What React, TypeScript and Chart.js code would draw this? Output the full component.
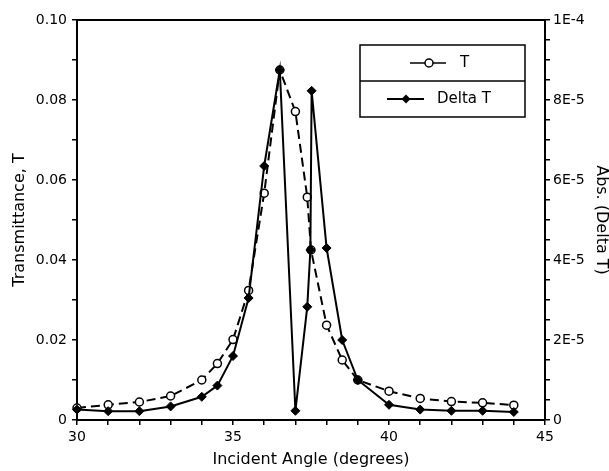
import React, { useEffect, useRef } from 'react';
import { Chart, registerables } from 'chart.js';

Chart.register(...registerables);

// ---- data ----
const tAngles = [30, 31, 32, 33, 34, 34.5, 35, 35.5, 36, 36.5, 37, 37.38, 37.5, 38, 38.5, 39, 40, 41, 42, 43, 44];
const tValues = [0.0030, 0.0038, 0.0045, 0.0060, 0.0100, 0.0141, 0.0201, 0.0324, 0.0567, 0.0875, 0.0771, 0.0557, 0.0425, 0.0237, 0.0150, 0.0100, 0.0072, 0.0054, 0.0046, 0.0043, 0.0037];

const dAngles = [30, 31, 32, 33, 34, 34.5, 35, 35.5, 36, 36.5, 37, 37.38, 37.48, 37.52, 38, 38.5, 39, 40, 41, 42, 43, 44];
const dValues = [2.6e-6, 2.2e-6, 2.2e-6, 3.4e-6, 5.8e-6, 8.6e-6, 1.6e-5, 3.05e-5, 6.35e-5, 8.75e-5, 2.3e-6, 2.83e-5, 4.25e-5, 8.23e-5, 4.3e-5, 2.0e-5, 1.0e-5, 3.8e-6, 2.6e-6, 2.3e-6, 2.3e-6, 2.0e-6];

const xTickValues = [30, 31, 32, 33, 34, 35, 36, 37, 38, 39, 40, 41, 42, 43, 44, 45];
const xTickLabels = ['30', '', '', '', '', '35', '', '', '', '', '40', '', '', '', '', '45'];

const yTickValues = [0, 0.01, 0.02, 0.03, 0.04, 0.05, 0.06, 0.07, 0.08, 0.09, 0.10];
const yTickLabels = ['0', '', '0.02', '', '0.04', '', '0.06', '', '0.08', '', '0.10'];

const y2TickValues = [0, 5e-6, 1e-5, 1.5e-5, 2e-5, 2.5e-5, 3e-5, 3.5e-5, 4e-5, 4.5e-5, 5e-5, 5.5e-5, 6e-5, 6.5e-5, 7e-5, 7.5e-5, 8e-5, 8.5e-5, 9e-5, 9.5e-5, 1e-4];
const y2TickLabels = ['0', '', '', '', '2E-5', '', '', '', '4E-5', '', '', '', '6E-5', '', '', '', '8E-5', '', '', '', '1E-4'];

const xTitle = 'Incident Angle (degrees)';
const yTitle = 'Transmittance, T';
const y2Title = 'Abs. (Delta T)';
const legendLabels = ['T', 'Delta T'];

const FONT = 'DejaVu Sans';

const framePlugin = {
  id: 'frame',
  afterDraw(chart: any) {
    const { ctx, chartArea } = chart;
    ctx.save();
    ctx.strokeStyle = '#000';
    ctx.lineWidth = 2;
    ctx.beginPath();
    ctx.moveTo(chartArea.left, chartArea.top);
    ctx.lineTo(chartArea.right, chartArea.top);
    ctx.stroke();

    // legend box
    const bw = 165;
    const rh = 36;
    const bx = chartArea.right - 20 - bw;
    const by = chartArea.top + 25;
    ctx.fillStyle = '#fff';
    ctx.fillRect(bx, by, bw, rh * 2);
    ctx.lineWidth = 1.5;
    ctx.strokeRect(bx, by, bw, rh * 2);
    ctx.beginPath();
    ctx.moveTo(bx, by + rh);
    ctx.lineTo(bx + bw, by + rh);
    ctx.stroke();

    ctx.font = `15px "${FONT}"`;
    ctx.fillStyle = '#000';
    ctx.textBaseline = 'middle';
    ctx.textAlign = 'left';

    // row 1: T
    const y1 = by + rh / 2;
    ctx.lineWidth = 1.5;
    ctx.beginPath();
    ctx.moveTo(bx + 50, y1);
    ctx.lineTo(bx + 86, y1);
    ctx.stroke();
    ctx.beginPath();
    ctx.arc(bx + 69, y1, 4, 0, Math.PI * 2);
    ctx.fillStyle = '#fff';
    ctx.fill();
    ctx.stroke();
    ctx.fillStyle = '#000';
    ctx.fillText(legendLabels[0], bx + 100, y1);

    // row 2: Delta T
    const y2 = by + rh * 1.5;
    ctx.lineWidth = 2;
    ctx.beginPath();
    ctx.moveTo(bx + 27, y2);
    ctx.lineTo(bx + 64, y2);
    ctx.stroke();
    ctx.beginPath();
    const cx = bx + 46;
    const r = 4.5;
    ctx.moveTo(cx, y2 - r);
    ctx.lineTo(cx + r, y2);
    ctx.lineTo(cx, y2 + r);
    ctx.lineTo(cx - r, y2);
    ctx.closePath();
    ctx.fill();
    ctx.fillText(legendLabels[1], bx + 77, y2);
    ctx.restore();
  },
};

function setTicks(values: number[]) {
  return (scale: any) => {
    scale.ticks = values.map((v) => ({ value: v }));
  };
}

export default function App() {
  const ref = useRef<HTMLCanvasElement | null>(null);

  useEffect(() => {
    if (!ref.current) return;
    const tickFont = { family: FONT, size: 14 };
    const titleFont = { family: FONT, size: 16 };
    const gridCommon = {
      drawOnChartArea: false,
      drawTicks: true,
      tickLength: 5,
      color: '#000',
      tickColor: '#000',
      lineWidth: 1.5,
    };
    const chart = new Chart(ref.current, {
      type: 'line',
      data: {
        datasets: [
          {
            label: legendLabels[1],
            data: dAngles.map((x, i) => ({ x, y: dValues[i] })),
            yAxisID: 'y2',
            borderColor: '#000',
            backgroundColor: '#000',
            borderWidth: 2,
            pointStyle: 'rectRot',
            pointRadius: 4.5,
            pointBackgroundColor: '#000',
            pointBorderColor: '#000',
            pointBorderWidth: 1,
            tension: 0,
            clip: false,
          } as any,
          {
            label: legendLabels[0],
            data: tAngles.map((x, i) => ({ x, y: tValues[i] })),
            yAxisID: 'y',
            borderColor: '#000',
            backgroundColor: '#fff',
            borderWidth: 2,
            borderDash: [9, 5],
            pointStyle: 'circle',
            pointRadius: 4,
            pointBackgroundColor: '#fff',
            pointBorderColor: '#000',
            pointBorderWidth: 1.5,
            tension: 0,
            clip: false,
          } as any,
        ],
      },
      options: {
        responsive: false,
        animation: false,
        layout: { padding: { top: 20, left: 0, right: 0, bottom: 0 } },
        plugins: { legend: { display: false }, tooltip: { enabled: false } },
        scales: {
          x: {
            type: 'linear',
            position: 'bottom',
            min: 30,
            max: 45,
            afterBuildTicks: setTicks(xTickValues),
            afterFit: (s: any) => { s.height = 51; },
            ticks: {
              autoSkip: false,
              maxRotation: 0,
              color: '#000',
              font: tickFont,
              padding: 4,
              callback: (_v: any, i: number) => xTickLabels[i],
            },
            grid: gridCommon,
            border: { color: '#000', width: 2 },
            title: { display: true, text: xTitle, color: '#000', font: titleFont, padding: { top: 0, bottom: 2 } },
          },
          y: {
            type: 'linear',
            position: 'left',
            min: 0,
            max: 0.1,
            afterBuildTicks: setTicks(yTickValues),
            afterFit: (s: any) => { s.width = 77; },
            ticks: {
              autoSkip: false,
              color: '#000',
              font: tickFont,
              padding: 5,
              callback: (_v: any, i: number) => yTickLabels[i],
            },
            grid: gridCommon,
            border: { color: '#000', width: 2 },
            title: { display: true, text: yTitle, color: '#000', font: titleFont, padding: { top: 10, bottom: 0 } },
          },
          y2: {
            type: 'linear',
            position: 'right',
            min: 0,
            max: 1e-4,
            afterBuildTicks: setTicks(y2TickValues),
            afterFit: (s: any) => { s.width = 64; },
            ticks: {
              autoSkip: false,
              color: '#000',
              font: tickFont,
              padding: 3,
              callback: (_v: any, i: number) => y2TickLabels[i],
            },
            grid: gridCommon,
            border: { color: '#000', width: 2 },
            title: { display: true, text: y2Title, color: '#000', font: { family: FONT, size: 16, lineHeight: 1 }, padding: { top: 0, bottom: 0 } },
          },
        },
      } as any,
      plugins: [framePlugin],
    });
    return () => chart.destroy();
  }, []);

  return (
    <div style={{ position: 'absolute', left: 0, top: 0, width: 609, height: 471, background: '#fff' }}>
      <canvas ref={ref} width={609} height={471} style={{ display: 'block', width: 609, height: 471 }} />
    </div>
  );
}
